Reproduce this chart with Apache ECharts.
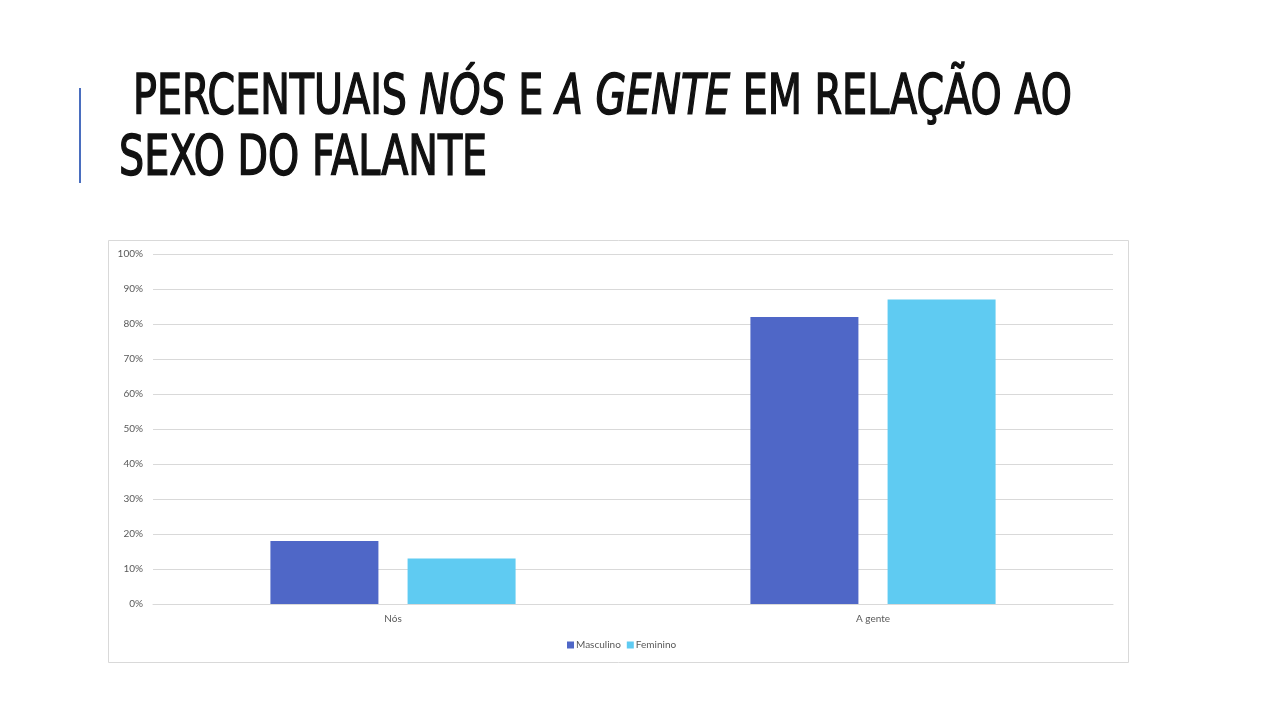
<!DOCTYPE html>
<html><head><meta charset="utf-8">
<script src="https://cdn.jsdelivr.net/npm/echarts@6/dist/echarts.min.js"></script>
<style>html,body{margin:0;padding:0;background:#fff}#c{width:1280px;height:720px}</style>
</head><body><div id="c"></div>
<script>
const categories = ['Nós', 'A gente'];
const masculino = [18, 82];
const feminino = [13, 87];
const seriesNames = ['Masculino', 'Feminino'];
const yTicks = [0, 10, 20, 30, 40, 50, 60, 70, 80, 90, 100];

const titleFont = 'DejaVu Sans';
const fs = 55;
const fw = 'normal';
function measure(t, italic) {
  const c = document.createElement('canvas').getContext('2d');
  c.font = (italic ? 'italic ' : '') + fw + ' ' + fs + 'px "' + titleFont + '"';
  return c.measureText(t).width;
}
const l1 = [['PERCENTUAIS ', 0], ['NÓS', 1], [' E ', 0], ['A GENTE', 1], [' EM RELAÇÃO AO', 0]];
const w1 = l1.reduce((s, p) => s + measure(p[0], p[1]), 0);
const sx = (1072 - 133) / w1;
const strokeW = 1.6;

const chart = echarts.init(document.getElementById('c'));
chart.setOption({
  animation: false,
  backgroundColor: '#fff',
  textStyle: { fontFamily: 'Lato' },
  graphic: [
    { type: 'rect', shape: { x: 108.5, y: 240.5, width: 1020, height: 422 }, style: { fill: 'none', stroke: '#d9d9d9', lineWidth: 1 }, silent: true },
    { type: 'rect', shape: { x: 79, y: 88, width: 2, height: 95 }, style: { fill: '#4a6ebf' }, silent: true },
    {
      type: 'group', x: 133, y: 0, scaleX: sx,
      children: [
        { type: 'text', x: 0, y: 99, style: {
          text: '{n|PERCENTUAIS }{i|NÓS}{n| E }{i|A GENTE}{n| EM RELAÇÃO AO}',
          verticalAlign: 'middle',
          rich: {
            n: { fontFamily: titleFont, fontSize: fs, fill: '#111', fontWeight: fw, stroke: '#111', lineWidth: strokeW },
            i: { fontFamily: titleFont, fontSize: fs, fill: '#111', fontWeight: fw, fontStyle: 'italic', stroke: '#111', lineWidth: strokeW }
          }
        } }
      ]
    },
    {
      type: 'group', x: 119, y: 0, scaleX: sx,
      children: [
        { type: 'text', x: 0, y: 160, style: { text: 'SEXO DO FALANTE', font: fw + ' ' + fs + 'px "' + titleFont + '"', fill: '#111', stroke: '#111', lineWidth: strokeW, verticalAlign: 'middle' } }
      ]
    }
  ],
  grid: { left: 153, right: 167, top: 254, bottom: 116 },
  legend: {
    data: seriesNames, left: 562, top: 635, icon: 'rect', itemWidth: 7, itemHeight: 7, itemGap: 6,
    textStyle: { fontSize: 10, color: '#595959', padding: [0, 0, 0, -3] }
  },
  xAxis: {
    type: 'category', data: categories,
    axisLine: { lineStyle: { color: '#d9d9d9' } }, axisTick: { show: false },
    axisLabel: { color: '#595959', fontSize: 10, margin: 10 }
  },
  yAxis: {
    type: 'value', min: yTicks[0], max: yTicks[yTicks.length - 1], interval: 10,
    axisLabel: { formatter: '{value}%', color: '#595959', fontSize: 10, margin: 10 },
    splitLine: { lineStyle: { color: '#d9d9d9' } },
    axisLine: { show: false }, axisTick: { show: false }
  },
  series: [
    { name: seriesNames[0], type: 'bar', data: masculino, itemStyle: { color: '#4f67c7' }, barWidth: '22.5%', barGap: '27%' },
    { name: seriesNames[1], type: 'bar', data: feminino, itemStyle: { color: '#5fcbf2' }, barWidth: '22.5%', barGap: '27%' }
  ]
});
</script></body></html>
